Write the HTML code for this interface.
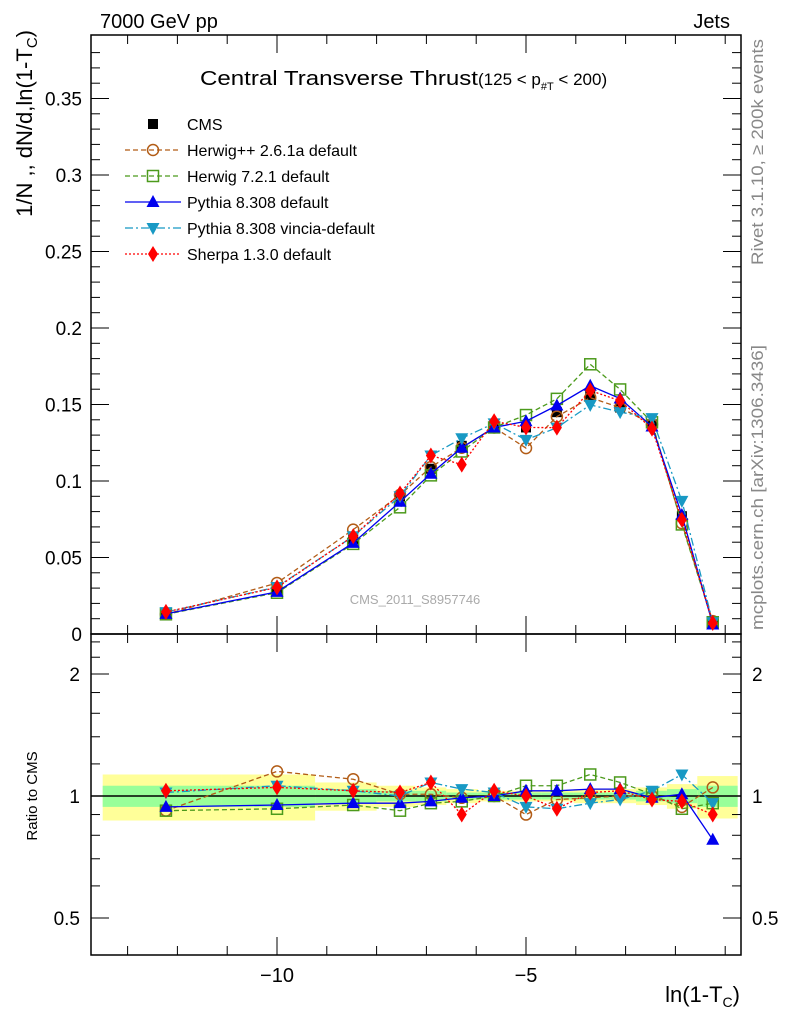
<!DOCTYPE html>
<html><head><meta charset="utf-8"><style>
body{margin:0;background:#fff;width:786px;height:1024px;overflow:hidden}
svg text{font-family:"Liberation Sans",sans-serif}
</style></head><body>
<svg id="c" width="786" height="1024" xmlns="http://www.w3.org/2000/svg"></svg>
<script>
const xs=[-12.23,-10,-8.47,-7.53,-6.91,-6.29,-5.64,-5,-4.38,-3.71,-3.11,-2.47,-1.87,-1.25];
const cms=[0.014,0.029,0.062,0.090,0.108,0.123,0.135,0.135,0.145,0.156,0.148,0.137,0.077,0.008];
const rHerwigPP=[0.92,1.15,1.10,1.01,1.01,0.99,1.00,0.90,0.98,0.99,1.00,1.00,0.94,1.05];
const rHerwig7=[0.92,0.93,0.95,0.92,0.96,0.97,1.00,1.06,1.06,1.13,1.08,1.01,0.93,0.96];
const rPythia=[0.94,0.95,0.96,0.96,0.97,0.99,1.00,1.03,1.03,1.04,1.04,0.99,1.01,0.78];
const rVincia=[1.02,1.06,1.03,1.00,1.08,1.04,1.02,0.94,0.93,0.96,0.98,1.03,1.13,0.96];
const rSherpa=[1.03,1.05,1.03,1.02,1.08,0.90,1.03,1.00,0.93,1.02,1.03,0.98,0.97,0.90];
const yellowBand=[0.13,0.13,0.08,0.06,0.05,0.04,0.03,0.03,0.03,0.04,0.04,0.05,0.07,0.12];
const greenBand=[0.06,0.06,0.04,0.03,0.03,0.02,0.02,0.02,0.02,0.02,0.02,0.03,0.04,0.06];
const NS="http://www.w3.org/2000/svg",svg=document.getElementById('c');
function el(t,a,p){const e=document.createElementNS(NS,t);for(const k in a)e.setAttribute(k,a[k]);(p||svg).appendChild(e);return e;}
const L=91,R=741,T=35,M=634,B=955;
const X=v=>775+49.8*v;
const Y=v=>634-1530*v;
const YR=r=>796-122*Math.log2(r);
const edges=[];for(let i=0;i<=xs.length;i++){edges.push(i==0?-13.5:i==xs.length?-0.75:(xs[i-1]+xs[i])/2);}
xs.forEach((x,i)=>{
 const y=el('rect',{x:X(edges[i]),y:YR(1+yellowBand[i]),width:X(edges[i+1])-X(edges[i]),height:YR(1-yellowBand[i])-YR(1+yellowBand[i]),fill:'#ffff99'});
 
 
 const g=el('rect',{x:X(edges[i]),y:YR(1+greenBand[i]),width:X(edges[i+1])-X(edges[i]),height:YR(1-greenBand[i])-YR(1+greenBand[i]),fill:'#99ff99'});
 
 
});
el('line',{x1:L,x2:R,y1:YR(1),y2:YR(1),stroke:'#000','stroke-width':1.5});
el('rect',{x:L,y:T,width:R-L,height:M-T,fill:'none',stroke:'#000','stroke-width':1.5});
el('rect',{x:L,y:M,width:R-L,height:B-M,fill:'none',stroke:'#000','stroke-width':1.5});
for(let v=0;v<=0.39;v+=0.01){const maj=Math.round(v*100)%5==0;const l=maj?18:9;const y=Y(v);
 el('line',{x1:L,x2:L+l,y1:y,y2:y,stroke:'#000'});el('line',{x1:R,x2:R-l,y1:y,y2:y,stroke:'#000'});
 if(maj){const t=el('text',{x:82,y:y+7,'text-anchor':'end','font-size':19});t.textContent=v<0.001?'0':(+v.toFixed(2)).toString();
 }}
for(let v=-13;v<=-1;v++){const maj=v%5==0;const x=X(v);
 el('line',{x1:x,x2:x,y1:M,y2:M-(maj?18:9),stroke:'#000'});el('line',{x1:x,x2:x,y1:B,y2:B-(maj?18:9),stroke:'#000'});
 el('line',{x1:x,x2:x,y1:T,y2:T+(maj?18:9),stroke:'#000'});el('line',{x1:x,x2:x,y1:M,y2:M+(maj?18:9),stroke:'#000'});
 if(maj){const t=el('text',{x:x,y:982,'text-anchor':'middle','font-size':20});t.textContent='\u2212'+(-v);
 }}
[0.5,0.6,0.7,0.8,0.9,1,1.2,1.4,1.6,1.8,2,2.2,2.4].forEach(r=>{const maj=[0.5,1,2].includes(r);const y=YR(r);
 el('line',{x1:L,x2:L+(maj?18:9),y1:y,y2:y,stroke:'#000'});el('line',{x1:R,x2:R-(maj?18:9),y1:y,y2:y,stroke:'#000'});
 if(maj){const t=el('text',{x:80,y:y+7,'text-anchor':'end','font-size':19});t.textContent=String(r);
 
 const t2=el('text',{x:752,y:y+7,'font-size':19});t2.textContent=String(r);
 }});
function marker(type,x,y,c,g){
 if(type=='sq')el('rect',{x:x-5,y:y-5,width:10,height:10,fill:c},g);
 if(type=='circ')el('circle',{cx:x,cy:y,r:5.5,fill:'none',stroke:c,'stroke-width':1.5},g);
 if(type=='osq')el('rect',{x:x-5.5,y:y-5.5,width:11,height:11,fill:'none',stroke:c,'stroke-width':1.5},g);
 if(type=='tri')el('polygon',{points:`${x},${y-7} ${x-6.5},${y+5} ${x+6.5},${y+5}`,fill:c},g);
 if(type=='itri')el('polygon',{points:`${x},${y+7} ${x-6.5},${y-5} ${x+6.5},${y-5}`,fill:c},g);
 if(type=='dia')el('polygon',{points:`${x},${y-8} ${x-5},${y} ${x},${y+8} ${x+5},${y}`,fill:c},g);
}
const gc=el('g',{});
xs.forEach((x,i)=>marker('sq',X(x),Y(cms[i]),'#000',gc));
const series=[
 {n:'herwigpp',r:rHerwigPP,c:'#b25c16',m:'circ',d:'5,3',label:'Herwig++ 2.6.1a default'},
 {n:'herwig7',r:rHerwig7,c:'#4c9a1c',m:'osq',d:'5,3',label:'Herwig 7.2.1 default'},
 {n:'pythia',r:rPythia,c:'#0000ee',m:'tri',d:'',label:'Pythia 8.308 default'},
 {n:'vincia',r:rVincia,c:'#1899c4',m:'itri',d:'8,3,2,3',label:'Pythia 8.308 vincia-default'},
 {n:'sherpa',r:rSherpa,c:'#ff0000',m:'dia',d:'2,2',label:'Sherpa 1.3.0 default'}];
series.forEach(s=>{
 const vals=cms.map((v,i)=>v*s.r[i]);
 const g=el('g',{});
 el('polyline',{points:xs.map((x,i)=>X(x)+','+Y(vals[i])).join(' '),fill:'none',stroke:s.c,'stroke-width':1.3,'stroke-dasharray':s.d},g);
 xs.forEach((x,i)=>marker(s.m,X(x),Y(vals[i]),s.c,g));
 const g2=el('g',{});
 el('polyline',{points:xs.map((x,i)=>X(x)+','+YR(s.r[i])).join(' '),fill:'none',stroke:s.c,'stroke-width':1.3,'stroke-dasharray':s.d},g2);
 xs.forEach((x,i)=>marker(s.m,X(x),YR(s.r[i]),s.c,g2));
});
const lg=el('g',{});
marker('sq',153,124,'#000',lg);let t=el('text',{x:187,y:130,'font-size':16},lg);t.textContent='CMS';
series.forEach((s,i)=>{const y=150+26*i;
 el('line',{x1:125,x2:181,y1:y,y2:y,stroke:s.c,'stroke-width':1.3,'stroke-dasharray':s.d},lg);
 marker(s.m,153,y,s.c,lg);const tt=el('text',{x:187,y:y+6,'font-size':16},lg);tt.textContent=s.label;
 });
function txt(x,y,s,a,name){const e=el('text',Object.assign({x:x,y:y,'font-size':20},a||{}));e.innerHTML=s;
 return e;}
txt(100,28,'7000 GeV pp',{},'energy-label');
txt(730,28,'Jets',{'text-anchor':'end'},'process-label');
txt(200,85,'<tspan textLength="278" lengthAdjust="spacingAndGlyphs">Central Transverse Thrust</tspan><tspan font-size="17">(125 &lt; p<tspan font-size="11" dy="5">#T</tspan><tspan dy="-5">  &lt; 200)</tspan></tspan>',{},'plot-title');
txt(415,604,'CMS_2011_S8957746',{'text-anchor':'middle','font-size':13,fill:'#aaa'},'analysis-watermark');
txt(0,0,'Rivet 3.1.10, \u2265 200k events',{transform:'translate(763,265) rotate(-90)','font-size':17,fill:'#888',textLength:226,lengthAdjust:'spacingAndGlyphs'},'rivet-label');
txt(0,0,'mcplots.cern.ch [arXiv:1306.3436]',{transform:'translate(763,630) rotate(-90)','font-size':17,fill:'#888',textLength:285,lengthAdjust:'spacingAndGlyphs'},'mcplots-label');
txt(0,0,'1/N ,, dN/d,ln(1-T<tspan font-size="15" dy="5">C</tspan><tspan dy="-5">)</tspan>',{transform:'translate(32,30) rotate(-90)','text-anchor':'end','font-size':22},'y-axis-title');
txt(0,0,'Ratio to CMS',{transform:'translate(37,796) rotate(-90)','text-anchor':'middle','font-size':15},'ratio-axis-title');
txt(740,1002,'ln(1-T<tspan font-size="14" dy="5">C</tspan><tspan dy="-5">)</tspan>',{'text-anchor':'end','font-size':22},'x-axis-title');
</script>
</body></html>
